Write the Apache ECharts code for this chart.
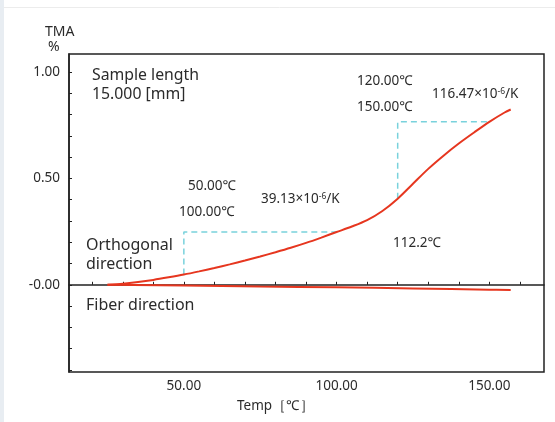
<!DOCTYPE html>
<html>
<head>
<meta charset="utf-8">
<script src="https://cdn.jsdelivr.net/npm/echarts@6/dist/echarts.min.js"></script>
<style>
  html, body { margin: 0; padding: 0; background: #fff; }
  #chart { width: 555px; height: 422px; }
</style>
</head>
<body>
<div id="chart"></div>
<script>
// TMA curves, [temp degC, %]
const orthogonalData = [
  [25, 0], [30, 0.005], [35, 0.013], [40, 0.023], [45, 0.035], [50, 0.048],
  [55, 0.063], [60, 0.079], [65, 0.096], [70, 0.114], [75, 0.133], [80, 0.153],
  [85, 0.174], [90, 0.197], [95, 0.222], [100, 0.248], [105, 0.274], [110, 0.304],
  [115, 0.347], [120, 0.405], [125, 0.475], [130, 0.545], [135, 0.607], [140, 0.664],
  [145, 0.716], [150, 0.766], [155, 0.810], [157, 0.824]
]
const fiberData = [
  [25, 0], [50, -0.003], [75, -0.008], [100, -0.012], [125, -0.017], [150, -0.023], [157, -0.025]
]
// slope guides (dashed)
const guideLow = [[50, 0.048], [50, 0.248], [100, 0.248]]
const guideHigh = [[120, 0.405], [120, 0.766], [150, 0.766]]

const xTicks = [20, 30, 40, 50, 60, 70, 80, 90, 100, 110, 120, 130, 140, 150, 160]
const xLabels = [50, 100, 150]
const yTicks = [-0.4, -0.3, -0.2, -0.1, 0, 0.1, 0.2, 0.3, 0.4, 0.5, 0.6, 0.7, 0.8, 0.9, 1.0]
const yLabels = [0, 0.5, 1.0]

const FONT = '"Noto Sans", "Open Sans", sans-serif'
const TXT = '#2b2b2b'
const RED = '#e6361f'
const CYAN = '#79d2dc'

const chart = echarts.init(document.getElementById('chart'))

// annotation text, x = left edge, y = vertical centre
const txt = (x, y, text, size, extra) => ({
  type: 'text', x: x, y: y,
  style: Object.assign({ text: text, fill: TXT, font: size + 'px ' + FONT, verticalAlign: 'middle' }, extra || {})
})
const supRich = { sup: { fontSize: 8.5, fontFamily: FONT, fill: TXT, verticalAlign: 'top', padding: [0, 0, 5, 0] } }

const option = {
  animation: false,
  backgroundColor: '#fff',
  grid: { left: 69, top: 54, right: 11, bottom: 50, show: true, borderColor: '#222', borderWidth: 1.5 },
  xAxis: {
    type: 'value', min: 12.4, max: 167.9,
    axisLine: { lineStyle: { color: '#222', width: 1.5 } },
    axisTick: { inside: true, length: 3, customValues: xTicks, lineStyle: { color: '#222' } },
    axisLabel: { customValues: xLabels, margin: 7, color: TXT, fontSize: 13.5, fontFamily: FONT,
      formatter: v => v.toFixed(2) },
    splitLine: { show: false }
  },
  yAxis: {
    type: 'value', min: -0.41, max: 1.085,
    axisLine: { lineStyle: { color: '#222', width: 1.5 } },
    axisTick: { inside: true, length: 3, customValues: yTicks, lineStyle: { color: '#222' } },
    axisLabel: { customValues: yLabels, margin: 9, color: TXT, fontSize: 13.5, fontFamily: FONT,
      formatter: v => (Math.abs(v) < 1e-9 ? '-0.00' : v.toFixed(2)) },
    splitLine: { show: false }
  },
  series: [
    { type: 'line', data: guideLow, symbol: 'none', silent: true,
      lineStyle: { color: CYAN, width: 1.5, type: [6, 4] } },
    { type: 'line', data: guideHigh, symbol: 'none', silent: true,
      lineStyle: { color: CYAN, width: 1.5, type: [6, 4] } },
    { type: 'line', data: fiberData, symbol: 'none', smooth: 0.4,
      lineStyle: { color: RED, width: 2 } },
    { type: 'line', data: orthogonalData, symbol: 'none', smooth: 0.3,
      lineStyle: { color: RED, width: 2 } }
  ],
  graphic: [
    { type: 'rect', left: 0, top: 0, shape: { width: 4, height: 422 }, style: { fill: '#e8edf2' } },
    { type: 'line', shape: { x1: 4, y1: 7.5, x2: 555, y2: 7.5 }, style: { stroke: '#ececec', lineWidth: 1 } },
    txt(45, 32, 'TMA', 14),
    txt(48, 47, '%', 14),
    txt(92, 75, 'Sample length', 15.8),
    txt(92, 94, '15.000 [mm]', 15.8),
    txt(357, 81, '120.00℃', 13.5),
    txt(357, 107.5, '150.00℃', 13.5),
    txt(432, 94, '116.47×10{sup|-6}/K', 13.5, { rich: supRich }),
    txt(188, 186, '50.00℃', 13.5),
    txt(179, 212.5, '100.00℃', 13.5),
    txt(261, 199, '39.13×10{sup|-6}/K', 13.5, { rich: supRich }),
    txt(393, 243, '112.2℃', 13.5),
    txt(86, 245, 'Orthogonal', 16),
    txt(86, 264, 'direction', 16),
    txt(86, 305, 'Fiber direction', 16),
    txt(237, 406, 'Temp［℃］', 13.5)
  ]
}

chart.setOption(option)
</script>
</body>
</html>
